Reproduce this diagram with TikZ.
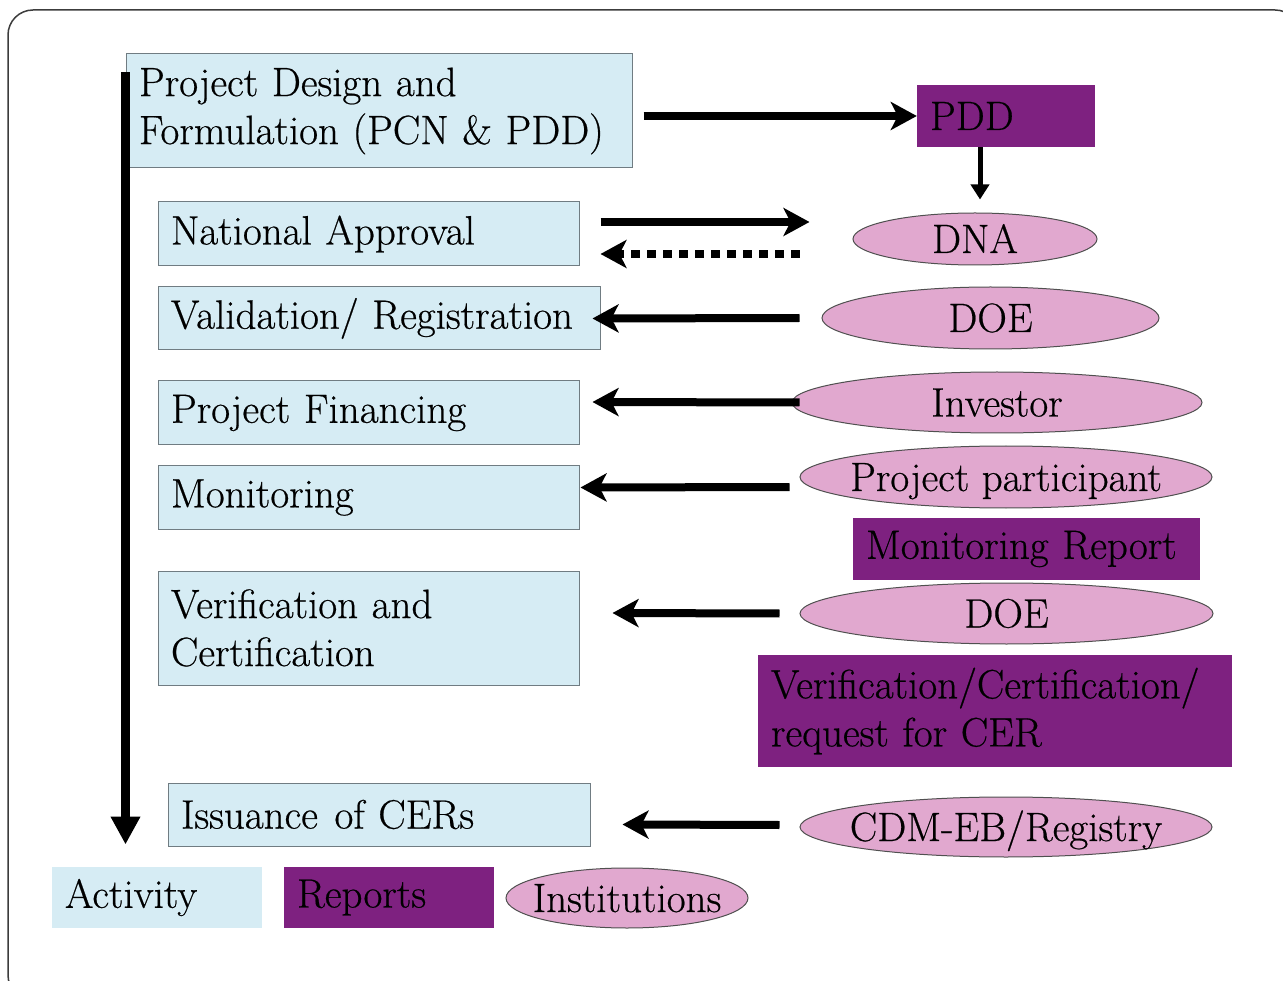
\documentclass[tikz,border=0pt]{standalone}
\usepackage{fontspec}
\setmainfont{Latin Modern Roman}[FakeBold=0.5]
\usetikzlibrary{shapes.geometric,arrows.meta,calc}
\definecolor{actblue}{RGB}{214,236,244}
\definecolor{actedge}{RGB}{112,124,130}
\definecolor{reppurple}{RGB}{126,33,128}
\definecolor{instpink}{RGB}{225,168,207}
\definecolor{instedge}{RGB}{80,80,80}
\definecolor{framegray}{RGB}{60,60,60}
\begin{document}
\begin{tikzpicture}[x=1pt,y=-1pt,
  every node/.style={font=\rmfamily\fontsize{41}{48}\selectfont, text=black},
  every label/.style={inner sep=0pt, text height=28pt, text depth=0pt},
  act/.style={rectangle, draw=actedge, line width=1pt, fill=actblue,
    inner xsep=13pt, inner ysep=0pt, align=left},
  legact/.style={rectangle, fill=actblue, inner xsep=13pt, inner ysep=0pt, align=left},
  rep/.style={rectangle, fill=reppurple, inner xsep=13pt, inner ysep=0pt, align=left},
  inst/.style={ellipse, draw=instedge, line width=1pt, fill=instpink, inner sep=0pt},
  arr/.style={line width=8pt, -{Stealth[length=26pt, width=28pt, inset=7pt]}},
  arrdash/.style={arr, dash pattern=on 9pt off 7pt},
  arrsmall/.style={line width=5pt, -{Triangle[length=15pt, width=18pt]}},
  arrmain/.style={line width=9pt, -{Triangle[length=28pt, width=28pt]}}
]
\useasboundingbox (0,0) rectangle (1283,981);
\clip (0,0) rectangle (1283,981);

% slide frame
\draw[framegray, line width=1.5pt, rounded corners=25pt] (8,10) rectangle (1300,1000);

% activities
\node[act, text width=480pt, minimum height=114pt] (pd) at (379,111)
  {Project Design and\\Formulation (PCN \& PDD)};
\node[act, text width=395pt, minimum height=64pt] (na) at (368.5,234) {National Approval};
\node[act, text width=416pt, minimum height=63pt] (vr) at (379,318.5) {Validation/ Registration};
\node[act, text width=395pt, minimum height=64pt] (pf) at (368.5,413) {Project Financing};
\node[act, text width=395pt, minimum height=63pt] (mo) at (368.5,497.5) {Monitoring};
\node[act, text width=395pt, minimum height=114pt] (vc) at (368.5,628)
  {Verification and\\Certification};
\node[act, text width=396pt, minimum height=63pt] (is) at (379,814.5) {Issuance\hspace{3pt} of CERs};

% reports
\node[rep, text width=152pt, minimum height=62pt] (pdd) at (1006,116) {PDD};
\node[rep, text width=321pt, minimum height=62pt] (mr) at (1026.5,549) {Monitoring Report};
\node[rep, text width=448pt, minimum height=112pt] (vcr) at (995,711)
  {Verification/Certification/\\request for CER};

% institutions
\node[inst, minimum width=244pt, minimum height=52pt, label=center:DNA] (dna) at (975,239) {};
\node[inst, minimum width=337pt, minimum height=62pt, label=center:DOE] (doe) at (990.5,318) {};
\node[inst, minimum width=410pt, minimum height=61pt, label=center:Investor] (inv) at (997,402.5) {};
\node[inst, minimum width=412pt, minimum height=62pt, label=center:Project participant] (pp) at (1006,477) {};
\node[inst, minimum width=413pt, minimum height=61pt, label=center:DOE] (doe2) at (1006.5,613.5) {};
\node[inst, minimum width=412pt, minimum height=60pt, label=center:CDM-EB/Registry] (cdm) at (1006,827) {};

% legend
\node[legact, text width=184pt, minimum height=61pt] (legact) at (157,897.5) {Activity};
\node[rep, text width=184pt, minimum height=61pt] (legrep) at (389,897.5) {Reports};
\node[inst, minimum width=242pt, minimum height=60pt, label=center:Institutions] (leginst) at (627,898) {};

% connectors
\draw[arrmain] ($(pd.north west)+(0,19)$) -- ($(is.west)+(-42,30)$);
\draw[arr] ($(pd.east |- pdd.west)+(11,0)$) -- (pdd.west);
\draw[arrsmall] ($(pdd.south)+(-26,0)$) -- ($(dna.north)+(5,-13)$);
\draw[arr] ($(na.east)+(21,-12)$) -- ($(dna.west)+(-43,-17)$);
\draw[arrdash] ($(dna.west)+(-53,15)$) -- ($(na.east)+(21,20)$);
\draw[arr] ($(doe.west)+(-22,0)$) -- ($(vr.east)+(-8,0)$);
\draw[arr] ($(inv.west)+(8,0)$) -- ($(pf.east)+(13,-11)$);
\draw[arr] ($(pp.west)+(-10,10)$) -- ($(mo.east)+(1,-10)$);
\draw[arr] ($(doe2.west)+(-20,0)$) -- ($(vc.east)+(33,-15)$);
\draw[arr] ($(cdm.west)+(-20,-2)$) -- ($(is.east)+(32,10)$);
\end{tikzpicture}
\end{document}
